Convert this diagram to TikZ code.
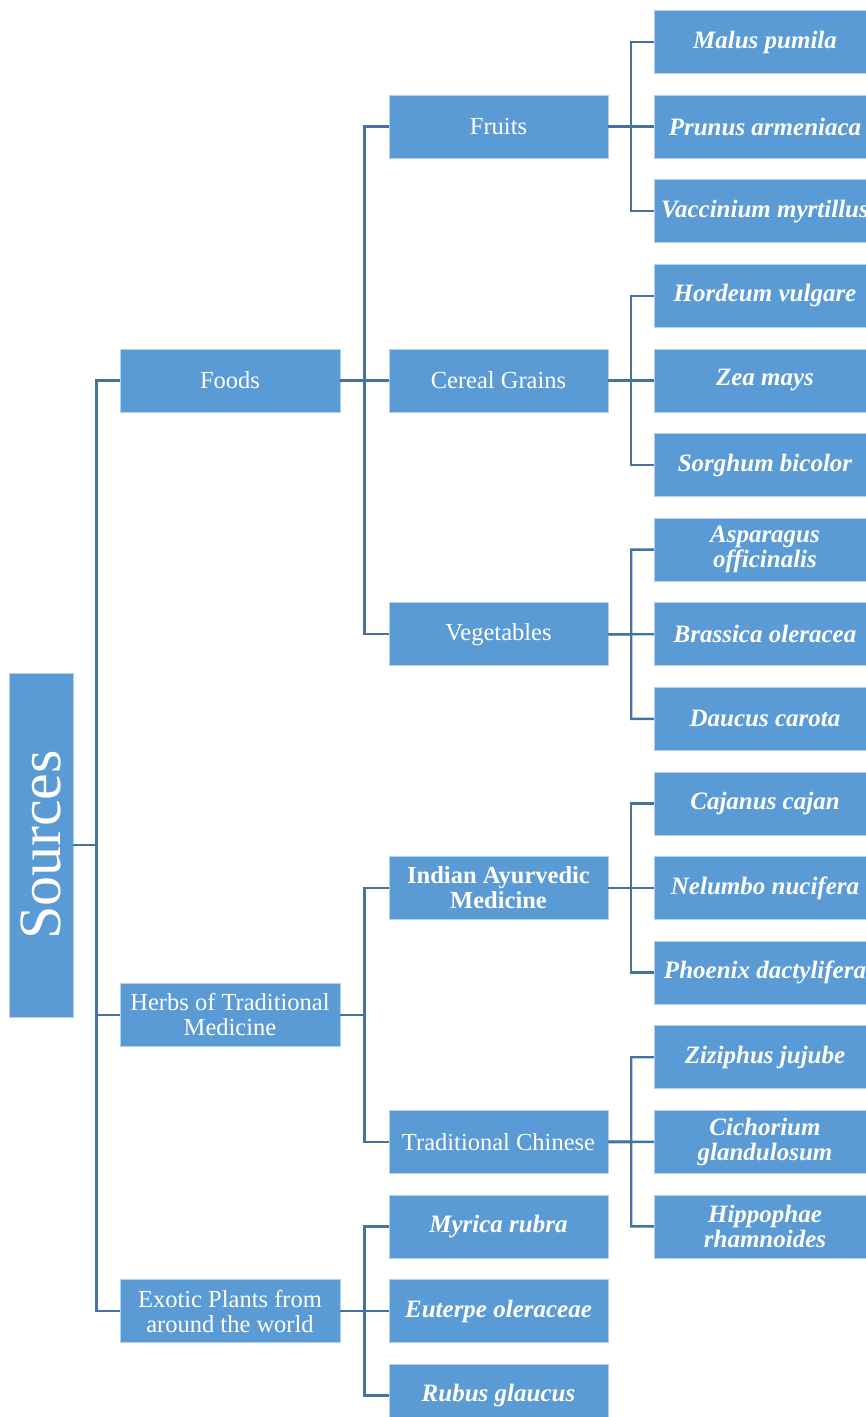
\documentclass[tikz,border=0pt]{standalone}
\usepackage{fontspec}
\setmainfont{Liberation Serif}
\usetikzlibrary{calc}
\definecolor{boxblue}{HTML}{5B9BD5}
\definecolor{edgeblue}{HTML}{4672A0}
\definecolor{rimblue}{HTML}{B4D0EC}
% elbow connector from a parent box to one of its children
\newcommand\treelink[2]{\draw[link] (#1.east) -- ($(#1.east)!0.5!(#1.east -| #2.west)$) |- (#2.west);}
\begin{document}
\begin{tikzpicture}[x=1pt,y=-1pt,
  block/.style={fill=boxblue, draw=rimblue, line width=0.8pt, text=white,
    align=center, inner sep=0pt, minimum height=63pt},
  rootbox/.style={block, minimum width=344pt, minimum height=64pt,
    font=\fontsize{60}{60}\selectfont},
  catbox/.style={block, minimum width=220pt, font=\fontsize{24.5}{25}\selectfont},
  subbox/.style={block, minimum width=219pt, font=\fontsize{24.5}{25}\selectfont},
  species/.style={block, minimum width=221pt,
    font=\fontsize{25}{25}\selectfont\bfseries\itshape},
  link/.style={draw=edgeblue, line width=2.4pt}
]
\useasboundingbox (0,0) rectangle (866,1417);
\clip (0,0) rectangle (866,1417);

% root, set upright along its long side
\node[rootbox, rotate=90] (src) at (41,845) {Sources};

% first level
\node[catbox] (foods)  at (230,380.4)  {Foods};
\node[catbox] (herbs)  at (230,1014.9) {Herbs of Traditional\\Medicine};
\node[catbox] (exotic) at (230,1311)   {Exotic Plants from\\around the world};

% second level
\node[subbox] (fruits) at (498.5,126.6)  {Fruits};
\node[subbox] (cereal) at (498.5,380.4)  {Cereal Grains};
\node[subbox] (veg)    at (498.5,634.2)  {Vegetables};
\node[subbox, font=\fontsize{24.5}{25}\selectfont\bfseries] (ayur) at (498.5,888) {Indian Ayurvedic\\Medicine};
\node[subbox] (tcm)    at (498.5,1141.8) {Traditional Chinese};
\node[subbox, font=\fontsize{25}{25}\selectfont\bfseries\itshape] (myrica)  at (498.5,1226.4) {Myrica rubra};
\node[subbox, font=\fontsize{25}{25}\selectfont\bfseries\itshape] (euterpe) at (498.5,1311)   {Euterpe oleraceae};
\node[subbox, font=\fontsize{25}{25}\selectfont\bfseries\itshape] (rubus)   at (498.5,1395.6) {Rubus glaucus};

% species
\node[species] (malus)    at (765,42)     {Malus pumila};
\node[species] (prunus)   at (765,126.6)  {Prunus armeniaca};
\node[species] (vacc)     at (765,211.2)  {Vaccinium myrtillus};
\node[species] (hordeum)  at (765,295.8)  {Hordeum vulgare};
\node[species] (zea)      at (765,380.4)  {Zea mays};
\node[species] (sorghum)  at (765,465)    {Sorghum bicolor};
\node[species] (aspar)    at (765,549.6)  {Asparagus\\officinalis};
\node[species] (brassica) at (765,634.2)  {Brassica oleracea};
\node[species] (daucus)   at (765,718.8)  {Daucus carota};
\node[species] (cajanus)  at (765,803.4)  {Cajanus cajan};
\node[species] (nelumbo)  at (765,888)    {Nelumbo nucifera};
\node[species] (phoenix)  at (765,972.6)  {Phoenix dactylifera};
\node[species] (ziziphus) at (765,1057.2) {Ziziphus jujube};
\node[species] (cichor)   at (765,1141.8) {Cichorium\\glandulosum};
\node[species] (hippo)    at (765,1226.4) {Hippophae\\rhamnoides};

% connectors
\foreach \c in {foods,herbs,exotic} {\draw[link] (src.south) -- ($(src.south)!0.5!(src.south -| \c.west)$) |- (\c.west);}
\foreach \c in {fruits,cereal,veg} {\treelink{foods}{\c}}
\foreach \c in {ayur,tcm} {\treelink{herbs}{\c}}
\foreach \c in {myrica,euterpe,rubus} {\treelink{exotic}{\c}}
\foreach \c in {malus,prunus,vacc} {\treelink{fruits}{\c}}
\foreach \c in {hordeum,zea,sorghum} {\treelink{cereal}{\c}}
\foreach \c in {aspar,brassica,daucus} {\treelink{veg}{\c}}
\foreach \c in {cajanus,nelumbo,phoenix} {\treelink{ayur}{\c}}
\foreach \c in {ziziphus,cichor,hippo} {\treelink{tcm}{\c}}
\end{tikzpicture}
\end{document}
